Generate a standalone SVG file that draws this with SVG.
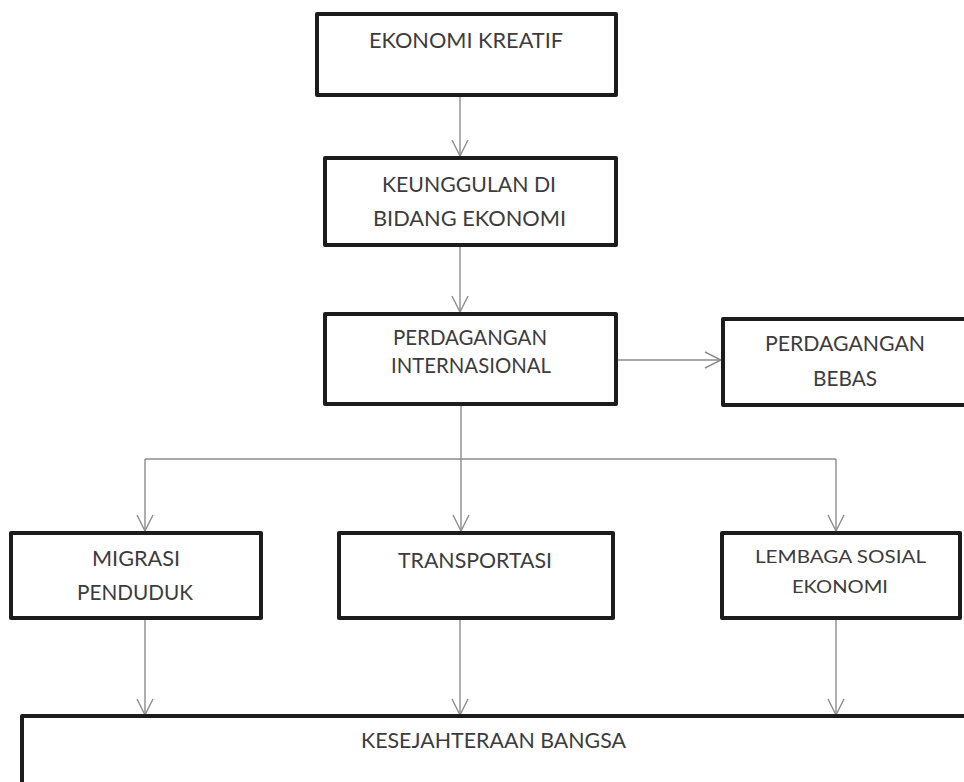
<svg xmlns="http://www.w3.org/2000/svg" width="964" height="782" viewBox="0 0 964 782">
<defs>
<style>
.box{fill:#fff;stroke:#1c1c1c;stroke-width:4;stroke-linejoin:round}
.lbl{font-family:Lato,"Open Sans","Liberation Sans",sans-serif;font-size:21px;fill:#3c3c3c}
.sm{font-size:18px}
.con{fill:none;stroke:#8c8c8c;stroke-width:1.4}
</style>
<marker id="arr" markerUnits="userSpaceOnUse" markerWidth="20" markerHeight="20" viewBox="0 0 20 20" refX="17" refY="9" orient="auto">
<path d="M1,1 L17,9 L1,17" fill="none" stroke="#8c8c8c" stroke-width="1.4"/>
</marker>
</defs>
<rect width="964" height="782" fill="#fff"/>
<g id="connectors">
<path class="con" d="M460,97 V156" marker-end="url(#arr)"/>
<path class="con" d="M460,247 V312" marker-end="url(#arr)"/>
<path class="con" d="M618,360 H721" marker-end="url(#arr)"/>
<path class="con" d="M461,406 V531" marker-end="url(#arr)"/>
<path class="con" d="M145,459 H836"/>
<path class="con" d="M145,459 V531" marker-end="url(#arr)"/>
<path class="con" d="M836,459 V531" marker-end="url(#arr)"/>
<path class="con" d="M145,620 V715" marker-end="url(#arr)"/>
<path class="con" d="M460,620 V715" marker-end="url(#arr)"/>
<path class="con" d="M836,620 V715" marker-end="url(#arr)"/>
</g>
<g id="ekonomi-kreatif">
<rect class="box" x="317" y="14" width="299" height="81"/>
<text class="lbl" x="369" y="48" textLength="194" lengthAdjust="spacingAndGlyphs">EKONOMI KREATIF</text>
</g>
<g id="keunggulan">
<rect class="box" x="325" y="158" width="291" height="87"/>
<text class="lbl" x="382" y="192" textLength="174" lengthAdjust="spacingAndGlyphs">KEUNGGULAN DI</text>
<text class="lbl" x="373" y="226" textLength="193" lengthAdjust="spacingAndGlyphs">BIDANG EKONOMI</text>
</g>
<g id="perdagangan-internasional">
<rect class="box" x="325" y="314" width="291" height="90"/>
<text class="lbl" x="393" y="345" textLength="154" lengthAdjust="spacingAndGlyphs">PERDAGANGAN</text>
<text class="lbl" x="391" y="373" textLength="160" lengthAdjust="spacingAndGlyphs">INTERNASIONAL</text>
</g>
<g id="perdagangan-bebas">
<rect class="box" x="723" y="319" width="260" height="86"/>
<text class="lbl" x="765" y="351" textLength="160" lengthAdjust="spacingAndGlyphs">PERDAGANGAN</text>
<text class="lbl" x="813" y="386" textLength="64" lengthAdjust="spacingAndGlyphs">BEBAS</text>
</g>
<g id="migrasi-penduduk">
<rect class="box" x="11" y="533" width="250" height="85"/>
<text class="lbl" x="92" y="566" textLength="88" lengthAdjust="spacingAndGlyphs">MIGRASI</text>
<text class="lbl" x="77" y="600" textLength="116" lengthAdjust="spacingAndGlyphs">PENDUDUK</text>
</g>
<g id="transportasi">
<rect class="box" x="339" y="533" width="274" height="85"/>
<text class="lbl" x="398" y="568" textLength="154" lengthAdjust="spacingAndGlyphs">TRANSPORTASI</text>
</g>
<g id="lembaga-sosial-ekonomi">
<rect class="box" x="722" y="533" width="238" height="85"/>
<text class="lbl sm" x="755" y="563" textLength="171" lengthAdjust="spacingAndGlyphs">LEMBAGA SOSIAL</text>
<text class="lbl sm" x="792" y="593" textLength="96" lengthAdjust="spacingAndGlyphs">EKONOMI</text>
</g>
<g id="kesejahteraan-bangsa">
<rect class="box" x="22" y="716" width="960" height="90"/>
<text class="lbl" x="361" y="748" textLength="265" lengthAdjust="spacingAndGlyphs">KESEJAHTERAAN BANGSA</text>
</g>
</svg>
